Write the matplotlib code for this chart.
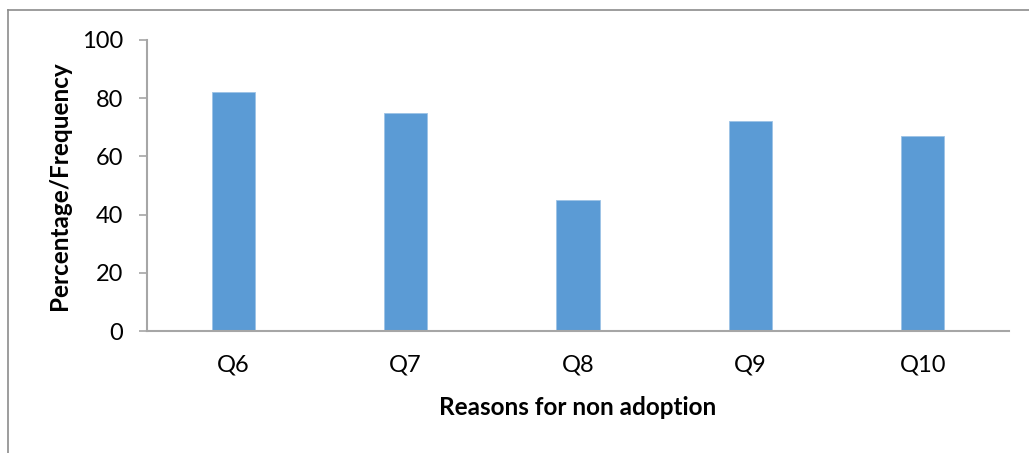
#! /usr/bin/env python3

'''
Reasons for non adoption: percentage/frequency per question, Q6 to Q10.
'''

import matplotlib
matplotlib.use('Agg')
import matplotlib.pyplot as plt
from matplotlib.lines import Line2D


questions = ['Q6', 'Q7', 'Q8', 'Q9', 'Q10']
percentages = [82, 75, 45, 72, 67]
y_ticks = [0, 20, 40, 60, 80, 100]

bar_colour = '#5B9BD5'
axis_grey = '#A6A6A6'


def main():
    plt.rcParams['font.family'] = ['Lato', 'DejaVu Sans']
    fig = plt.figure(figsize=(10.29, 4.53), dpi=100)
    ax = fig.add_axes([0.1429, 0.2693, 0.8377, 0.6424])

    positions = range(len(questions))
    ax.bar(positions, percentages, width=0.25, color=bar_colour,
           edgecolor='#9DC3E6', linewidth=0.6)

    ax.set_xlim(-0.5, len(questions) - 0.5)
    ax.set_ylim(0, 100)
    ax.set_yticks(y_ticks)
    ax.set_xticks(list(positions))
    ax.set_xticklabels(questions)

    for spine in 'right', 'top':
        ax.spines[spine].set_visible(False)
    for spine in 'left', 'bottom':
        ax.spines[spine].set_color(axis_grey)
        ax.spines[spine].set_linewidth(1.5)

    ax.tick_params(axis='y', direction='out', length=6, width=1.2,
                   color=axis_grey, labelsize=17, pad=11)
    ax.tick_params(axis='x', length=0, labelsize=17, pad=17)

    ax.set_xlabel('Reasons for non adoption', fontsize=17.5,
                  fontweight='bold', labelpad=15)
    ax.set_ylabel('Percentage/Frequency', fontsize=17.5,
                  fontweight='bold', labelpad=8)

    # chart border, open at the right and bottom
    fig.add_artist(Line2D([8 / 1029, 8 / 1029], [0, 1 - 10 / 453],
                          transform=fig.transFigure, color='#8C8C8C', lw=1.2))
    fig.add_artist(Line2D([8 / 1029, 1], [1 - 10 / 453, 1 - 10 / 453],
                          transform=fig.transFigure, color='#8C8C8C', lw=1.2))

    fig.savefig('out.png', dpi=100)


if __name__ == '__main__':
    main()
